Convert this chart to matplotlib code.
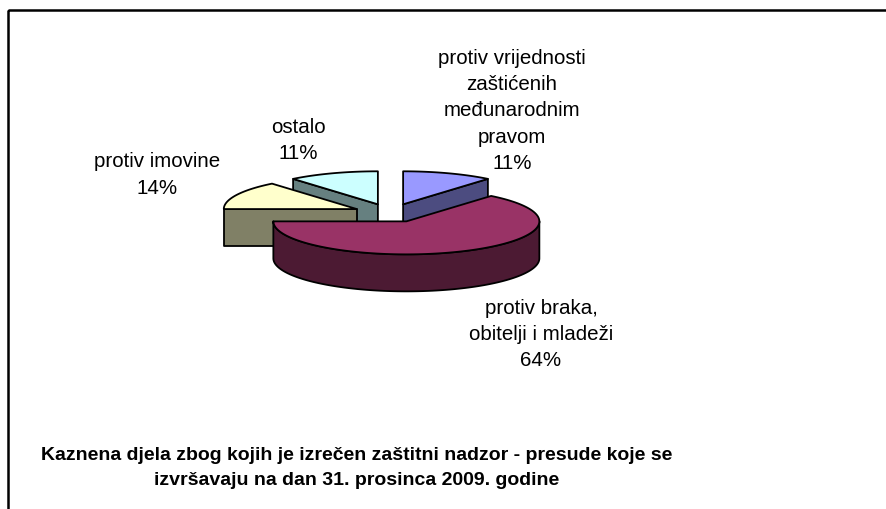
import numpy as np
import matplotlib
matplotlib.use('Agg')
import matplotlib.pyplot as plt
from matplotlib.patches import Polygon, Rectangle

labels = ['protiv vrijednosti\nzaštićenih\nmeđunarodnim\npravom',
          'protiv braka,\nobitelji i mladeži',
          'protiv imovine',
          'ostalo']
shares = [11, 64, 14, 11]
top_colors  = ['#9999FF', '#993366', '#FFFFCC', '#CCFFFF']
side_colors = ['#4C4C80', '#4C1A33', '#808066', '#668080']
title = ('Kaznena djela zbog kojih je izrečen zaštitni nadzor - presude koje se\n'
         'izvršavaju na dan 31. prosinca 2009. godine')

# layout (pixel units, y downwards)
CX, CY = 390.5, 214
RX, RY, DEPTH = 133, 33, 37
EXPLODE = 0.28
label_pos = [(512, 111), (541, 334.5), (157, 175), (298, 140.5)]
FONT = 'Liberation Sans'

fig = plt.figure(figsize=(8.87, 5.1), dpi=100)
ax = fig.add_axes([0, 0, 1, 1])
ax.set_xlim(0, 887); ax.set_ylim(510, 0); ax.axis('off')


def rim(th, cx, cy, dz=0):
    t = np.radians(th)
    return cx + RX * np.sin(t), cy - RY * np.cos(t) + dz


def poly(pts, fc):
    ax.add_patch(Polygon(pts, closed=True, fc=fc, ec='black', lw=1.3,
                         joinstyle='round'))


# slice angles, clockwise from 12 o'clock
ends = np.cumsum(shares) / sum(shares) * 360
starts = np.concatenate([[0], ends[:-1]])
mids = (starts + ends) / 2
order = np.argsort(-np.cos(np.radians(mids)))   # back slices first

for i in order:
    a, b, m = starts[i], ends[i], mids[i]
    cx = CX + EXPLODE * RX * np.sin(np.radians(m))
    cy = CY - EXPLODE * RY * np.cos(np.radians(m))
    # radial cut faces
    for ang, norm in ((a, a - 90), (b, b + 90)):
        if np.cos(np.radians(norm)) < -1e-6:
            rx_, ry_ = rim(ang, cx, cy)
            poly([(cx, cy), (rx_, ry_), (rx_, ry_ + DEPTH), (cx, cy + DEPTH)],
                 side_colors[i])
    # outer curved side (front half only)
    lo, hi = max(a, 90), min(b, 270)
    if hi > lo:
        th = np.linspace(lo, hi, 120)
        xs, ys = rim(th, cx, cy)
        pts = list(zip(xs, ys)) + list(zip(xs[::-1], ys[::-1] + DEPTH))
        poly(pts, side_colors[i])
    # top face
    th = np.linspace(a, b, 120)
    xs, ys = rim(th, cx, cy)
    poly([(cx, cy)] + list(zip(xs, ys)), top_colors[i])

for lab, s, (x, y) in zip(labels, shares, label_pos):
    ax.text(x, y, f'{lab}\n{s}%', ha='center', va='center', fontsize=14.8,
            family=FONT, linespacing=1.49)

ax.text(357, 468, title, ha='center', va='center', fontsize=14,
        fontweight='bold', family=FONT, linespacing=1.6)

ax.add_patch(Rectangle((8, 11), 1200, 1200, fill=False, ec='black', lw=1.8))

fig.savefig('out.png', dpi=100)
